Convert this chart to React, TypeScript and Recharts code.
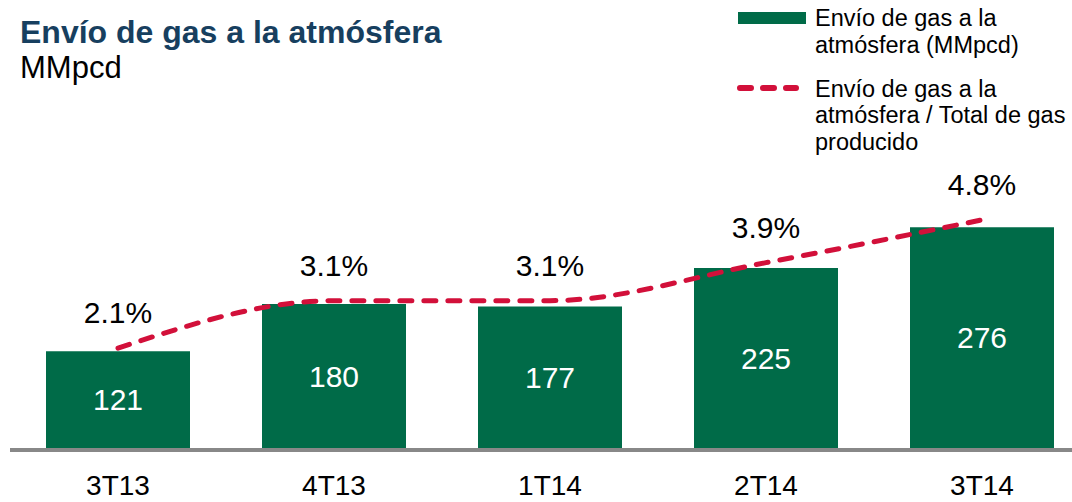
import React from "react";
import { ComposedChart, Bar, Line, XAxis, YAxis, LabelList } from "recharts";

const categories = ["3T13", "4T13", "1T14", "2T14", "3T14"];
const ventedGas = [121, 180, 177, 225, 276];
const ventedShare = [2.1, 3.1, 3.1, 3.9, 4.8];

const data = categories.map((c, i) => ({ cat: c, gas: ventedGas[i], pct: ventedShare[i] }));

const GREEN = "#006B48";
const RED = "#D2103A";
const FONT = "'Liberation Sans', Arial, sans-serif";

export default function App() {
  return (
    <div style={{ position: "fixed", left: 0, top: 0, width: 1072, height: 502, overflow: "hidden", background: "#fff", fontFamily: FONT }}>
      <ComposedChart width={1090} height={502} data={data} margin={{ top: 208, right: 0, bottom: 0, left: 10 }}>
        <XAxis
          dataKey="cat"
          height={54}
          tickLine={false}
          tickMargin={21}
          axisLine={{ stroke: "#888888", strokeWidth: 4, transform: "translate(0,2)" }}
          tick={{ fontSize: 28, fill: "#000", fontFamily: FONT }}
          interval={0}
        />
        <YAxis yAxisId="l" hide domain={[0, 300]} />
        <YAxis yAxisId="r" hide domain={[0, 5.05]} orientation="right" />
        <Bar yAxisId="l" dataKey="gas" fill={GREEN} barSize={144} isAnimationActive={false}>
          <LabelList dataKey="gas" position="center" fill="#fff" fontSize={30} fontFamily={FONT} />
        </Bar>
        <Line
          yAxisId="r"
          dataKey="pct"
          type="monotone"
          stroke={RED}
          strokeWidth={5}
          strokeDasharray="12 12"
          strokeLinecap="round"
          dot={false}
          activeDot={false}
          isAnimationActive={false}
        >
          <LabelList
            dataKey="pct"
            position="top"
            offset={25}
            fill="#000"
            fontSize={30}
            fontFamily={FONT}
            formatter={(v: number) => `${v.toFixed(1)}%`}
          />
        </Line>
      </ComposedChart>
      <svg width={1072} height={502} style={{ position: "absolute", left: 0, top: 0, pointerEvents: "none" }}>
        <text x={20} y={43} fontSize={32} fontWeight="bold" fill="#173F5F" fontFamily={FONT}>Envío de gas a la atmósfera</text>
        <text x={20} y={78} fontSize={31} fill="#000" fontFamily={FONT}>MMpcd</text>
        <rect x={738} y={12} width={68} height={12} fill={GREEN} />
        <text x={815} y={26} fontSize={23.5} fill="#000" fontFamily={FONT}>Envío de gas a la</text>
        <text x={815} y={53} fontSize={23.5} fill="#000" fontFamily={FONT}>atmósfera (MMpcd)</text>
        <line x1={740} y1={88} x2={796} y2={88} stroke={RED} strokeWidth={6} strokeDasharray="11 12" strokeLinecap="round" />
        <text x={815} y={97} fontSize={23.5} fill="#000" fontFamily={FONT}>Envío de gas a la</text>
        <text x={815} y={123} fontSize={23.5} fill="#000" fontFamily={FONT}>atmósfera / Total de gas</text>
        <text x={815} y={150} fontSize={23.5} fill="#000" fontFamily={FONT}>producido</text>
      </svg>
    </div>
  );
}
